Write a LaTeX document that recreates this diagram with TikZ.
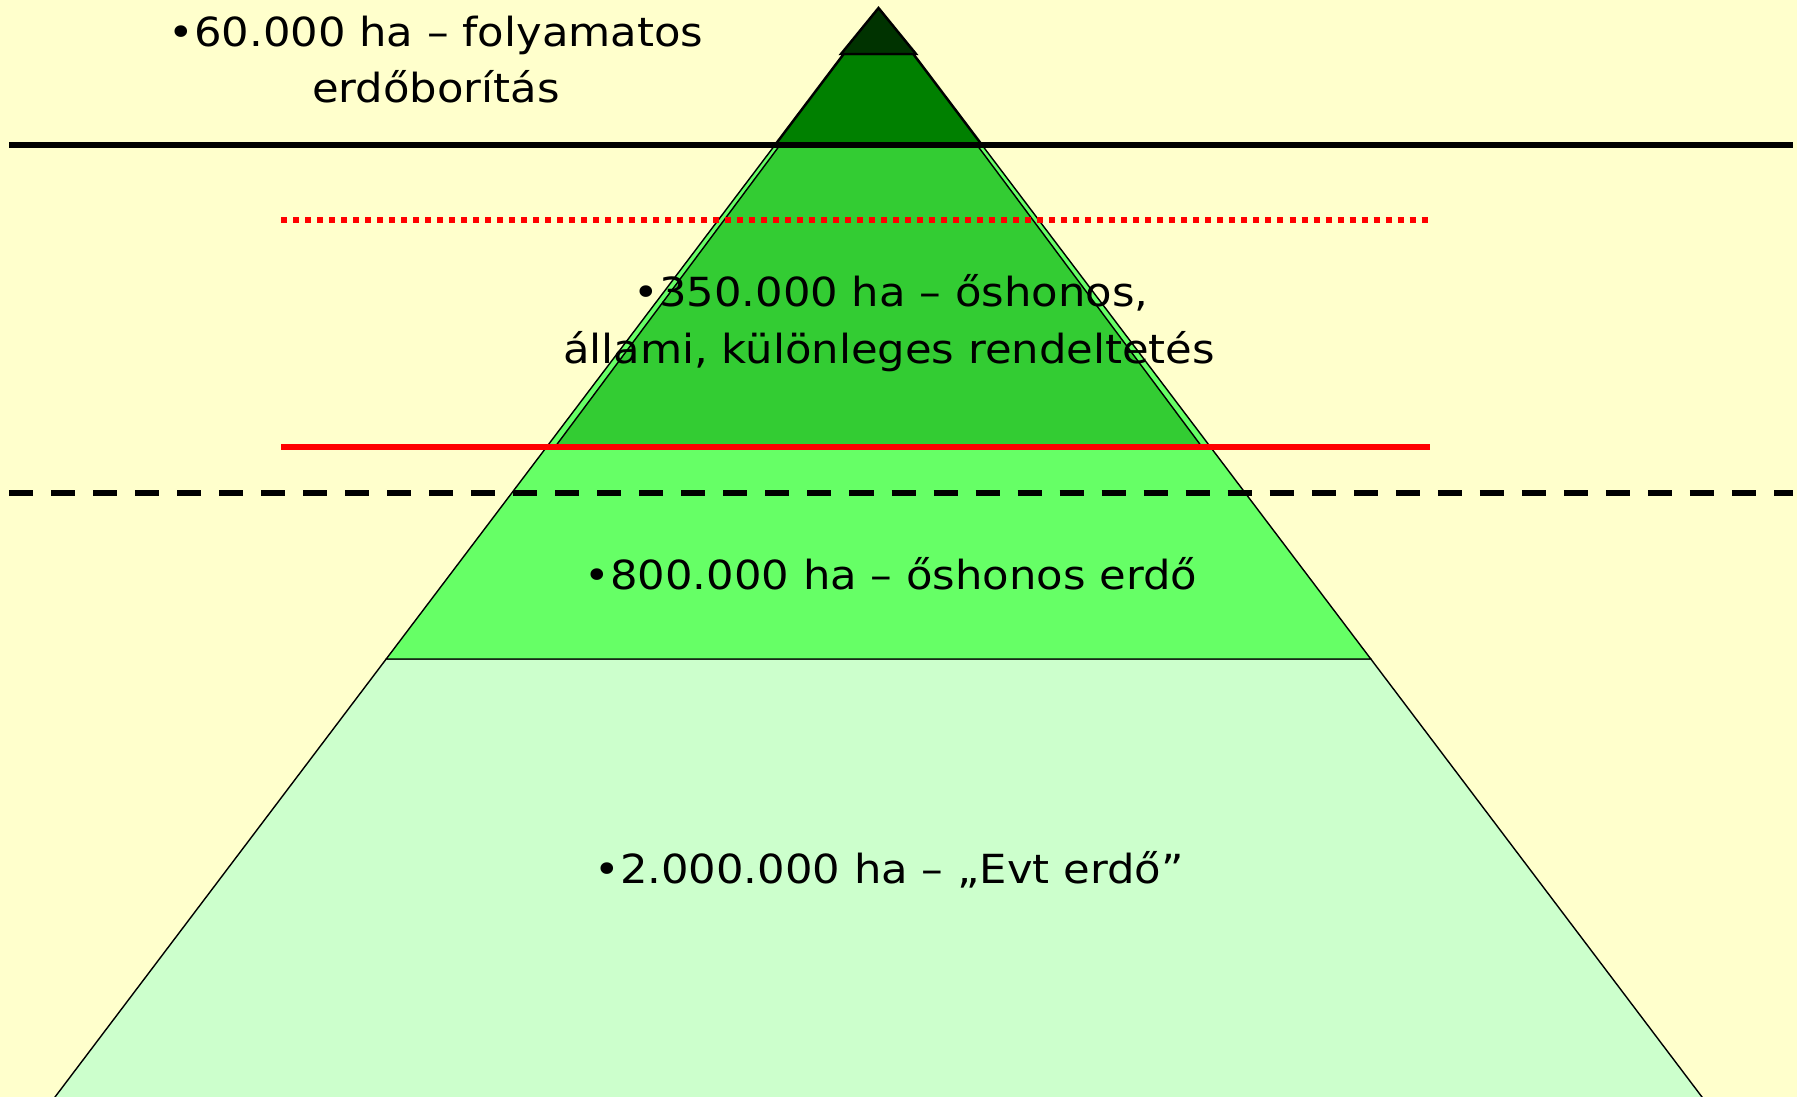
\documentclass[tikz,border=0pt]{standalone}
\usepackage{fontspec}
\setmainfont{DejaVu Sans}[FakeStretch=1.08]
\definecolor{bgyellow}{HTML}{FFFFCC}
\definecolor{lvlfive}{HTML}{CCFFCC}
\definecolor{lvlfour}{HTML}{66FF66}
\definecolor{lvlthree}{HTML}{33CC33}
\definecolor{lvltwo}{HTML}{008000}
\definecolor{lvlone}{HTML}{003300}
\definecolor{redline}{HTML}{FF0000}
\begin{document}
\begin{tikzpicture}[x=0.01cm,y=-0.01cm,
  lab/.style={anchor=base, inner sep=0pt, font=\fontsize{11.4pt}{16pt}\selectfont},
  layerbox/.style={draw=black, line width=0.4pt, line join=miter},
  sepline/.style={line width=1.7pt, line cap=butt},
]
\useasboundingbox (0,0) rectangle (1797,1097);
\fill[bgyellow] (0,0) rectangle (1797,1097);

% pyramid layers
\fill[lvlfive, layerbox] (386.2,659) -- (1370.8,659) -- (1703.5,1099) -- (53.5,1099) -- cycle;
\fill[lvlfour, layerbox] (775,145) -- (982,145) -- (1370.8,659) -- (386.2,659) -- cycle;
\fill[lvlthree, layerbox] (780,145) -- (977,145) -- (1202,447) -- (555,447) -- cycle;
\fill[lvltwo, layerbox, line width=0.7pt] (843.7,54) -- (913.3,54) -- (982,145) -- (775,145) -- cycle;
\fill[lvlone, layerbox, line width=0.7pt] (878.5,8) -- (916,54) -- (841,54) -- cycle;

% separator lines
\coordinate (blackL) at (9,145);
\coordinate (blackR) at (1793,145);
\coordinate (dotL) at (281,220);
\coordinate (dotR) at (1428,220);
\coordinate (redL) at (281,447.3);
\coordinate (redR) at (1430,447.3);
\coordinate (dashL) at (9,493);
\coordinate (dashR) at (1793,493);
\draw[sepline, black] (blackL) -- (blackR);
\draw[sepline, redline, dash pattern=on 1.707pt off 1.707pt] (dotL) -- (dotR);
\draw[sepline, redline] (redL) -- (redR);
\draw[sepline, black, dash pattern=on 6.83pt off 5.12pt] (dashL) -- (dashR);

% labels
\node[lab] (t1a) at (436,47) {•60.000 ha – folyamatos};
\node[lab] (t1b) at (436,103) {erdőborítás};
\node[lab] (t2a) at (891,306) {•350.000 ha – őshonos,};
\node[lab] (t2b) at (889,363) {állami, különleges rendeltetés};
\node[lab] (t3) at (891,589) {•800.000 ha – őshonos erdő};
\node[lab] (t4) at (889,883) {•2.000.000 ha – „Evt erdő”};
\end{tikzpicture}
\end{document}
